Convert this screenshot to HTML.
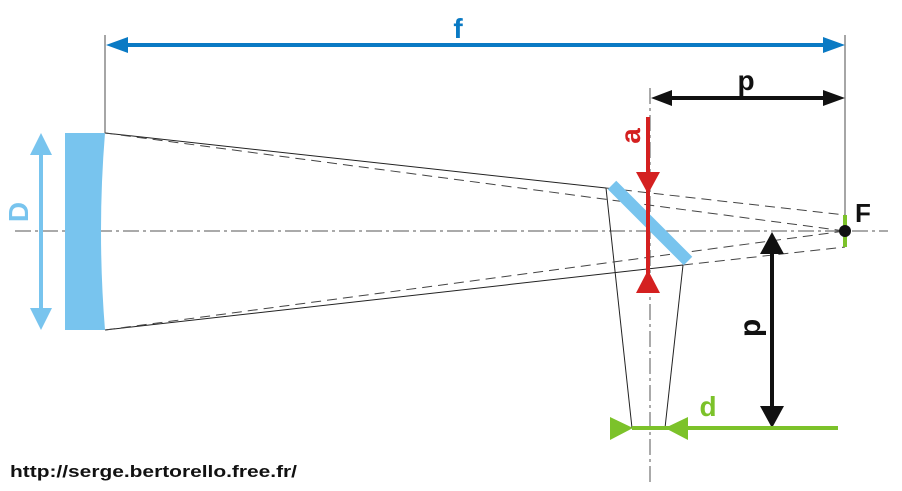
<!DOCTYPE html><html><head><style>body{margin:0;background:#fff}</style></head><body>
<svg width="902" height="486" xmlns="http://www.w3.org/2000/svg" font-family="Liberation Sans, sans-serif" font-weight="bold">
<line x1="15" y1="231" x2="888" y2="231" stroke="#555" stroke-width="1" stroke-dasharray="16,4,3,4"/>
<line x1="650" y1="88" x2="650" y2="486" stroke="#555" stroke-width="1" stroke-dasharray="16,4,3,4"/>
<line x1="105" y1="35" x2="105" y2="133" stroke="#888" stroke-width="1.5"/>
<line x1="845" y1="35" x2="845" y2="215" stroke="#888" stroke-width="1.5"/>
<path d="M65,133 L105,133 Q97,231 105,330 L65,330 Z" fill="#78c4ee"/>
<line x1="41" y1="150" x2="41" y2="312" stroke="#78c4ee" stroke-width="4"/>
<polygon points="41,133 30,155 52,155" fill="#78c4ee"/><polygon points="41,330 30,308 52,308" fill="#78c4ee"/>
<text transform="translate(28,212) rotate(-90)" font-size="28" fill="#78c4ee" text-anchor="middle">D</text>
<line x1="122" y1="45" x2="828" y2="45" stroke="#0a7ac4" stroke-width="4"/>
<polygon points="106,45 128,37 128,53" fill="#0a7ac4"/><polygon points="845,45 823,37 823,53" fill="#0a7ac4"/>
<text x="458" y="38" font-size="28" fill="#0a7ac4" text-anchor="middle">f</text>
<line x1="668" y1="98" x2="828" y2="98" stroke="#111" stroke-width="4"/>
<polygon points="651,98 672,90 672,106" fill="#111"/><polygon points="845,98 823,90 823,106" fill="#111"/>
<text x="746" y="90" font-size="28" fill="#111" text-anchor="middle">p</text>
<g stroke="#222" stroke-width="1" fill="none">
<line x1="105" y1="133" x2="606" y2="188"/><line x1="105" y1="330" x2="683" y2="265"/>
<line x1="606" y1="188" x2="632" y2="428"/><line x1="683" y1="265" x2="665" y2="428"/>
<g stroke-dasharray="10,6" stroke="#444"><line x1="606" y1="188" x2="845" y2="215"/><line x1="683" y1="265" x2="845" y2="247"/>
<line x1="105" y1="133" x2="845" y2="231"/><line x1="105" y1="330" x2="845" y2="231"/></g></g>
<line x1="612" y1="185" x2="688" y2="261" stroke="#78c4ee" stroke-width="12"/>
<line x1="648" y1="117" x2="648" y2="290" stroke="#d42020" stroke-width="4"/>
<polygon points="648,194 636,172 660,172" fill="#d42020"/><polygon points="648,270 636,293 660,293" fill="#d42020"/>
<text transform="translate(640,136) rotate(-90)" font-size="28" fill="#d42020" text-anchor="middle">a</text>
<line x1="845" y1="215" x2="845" y2="247" stroke="#7cc22a" stroke-width="4"/>
<circle cx="845" cy="231" r="6" fill="#111"/>
<text x="855" y="222" font-size="26" fill="#111">F</text>
<line x1="772" y1="252" x2="772" y2="410" stroke="#111" stroke-width="4"/>
<polygon points="772,232 760,254 784,254" fill="#111"/><polygon points="772,428 760,406 784,406" fill="#111"/>
<text transform="translate(760,328) rotate(-90)" font-size="30" fill="#111" text-anchor="middle">p</text>
<line x1="632" y1="428" x2="838" y2="428" stroke="#7cc22a" stroke-width="4"/>
<polygon points="633,428 610,417 610,440" fill="#7cc22a"/><polygon points="665,428 688,417 688,440" fill="#7cc22a"/>
<text x="708" y="416" font-size="28" fill="#7cc22a" text-anchor="middle">d</text>
<text x="10" y="477" font-size="17" fill="#111" textLength="287" lengthAdjust="spacingAndGlyphs">http://serge.bertorello.free.fr/</text>
</svg></body></html>
